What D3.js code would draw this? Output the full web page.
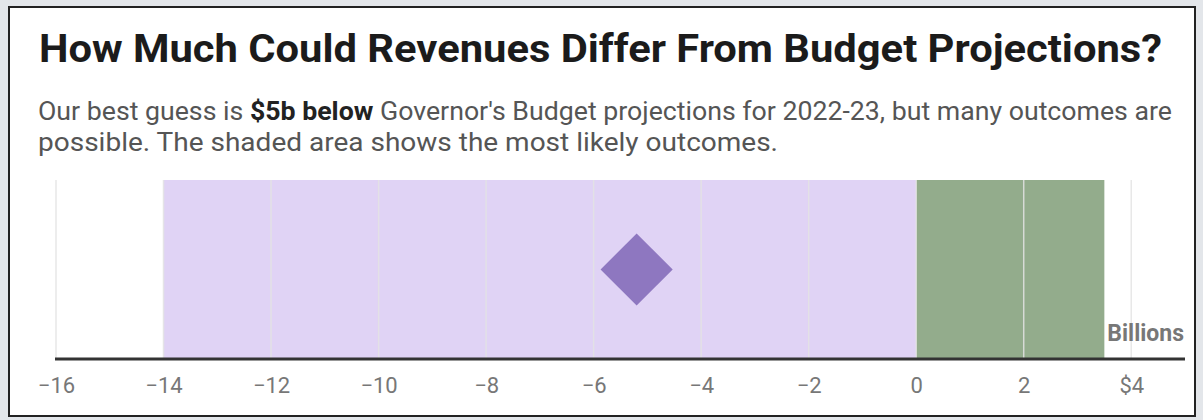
<!DOCTYPE html>
<html><head><meta charset="utf-8">
<script src="https://cdn.jsdelivr.net/npm/d3@7"></script>
<style>
html,body{margin:0;padding:0;background:#e3e6ea;}
svg{display:block;font-family:Roboto,"Noto Sans",sans-serif;}
</style></head>
<body>
<svg id="chart" width="1203" height="420"></svg>
<script>
// ---- data ----
const tickValues = [-16, -14, -12, -10, -8, -6, -4, -2, 0, 2, 4];
const tickLabels = ["\u221216", "\u221214", "\u221212", "\u221210", "\u22128", "\u22126", "\u22124", "\u22122", "0", "2", "$4"];
const bandNames = ["Below projections", "Above projections"];
const bandStarts = [-14, 0];
const bandEnds = [0, 3.5];
const bandColors = ["#e0d3f5", "#93ac8c"];
const bestGuess = [-5.2];
const unitLabel = "Billions";
const titleText = "How Much Could Revenues Differ From Budget Projections?";

const svg = d3.select("#chart");
// panel
svg.append("rect").attr("x", 9).attr("y", 7).attr("width", 1186).attr("height", 409)
  .attr("fill", "#fff").attr("stroke", "#222").attr("stroke-width", 2);

svg.append("text").attr("x", 39).attr("y", 62)
  .attr("font-size", 39).attr("font-weight", 700).attr("fill", "#1b1b1b")
  .attr("textLength", 1123).attr("lengthAdjust", "spacingAndGlyphs")
  .text(titleText);

const sub1 = svg.append("text").attr("x", 38).attr("y", 120).attr("font-size", 26).attr("fill", "#555")
  .attr("textLength", 1134).attr("lengthAdjust", "spacingAndGlyphs");
sub1.append("tspan").text("Our best guess is ");
sub1.append("tspan").attr("font-weight", 700).attr("fill", "#222").text("$5b below");
sub1.append("tspan").text(" Governor's Budget projections for 2022-23, but many outcomes are");
svg.append("text").attr("x", 38).attr("y", 151).attr("font-size", 26).attr("fill", "#555")
  .attr("textLength", 740).attr("lengthAdjust", "spacingAndGlyphs")
  .text("possible. The shaded area shows the most likely outcomes.");

// scales
const x = d3.scaleLinear().domain([-16, 5]).range([56, 1185]);
const y = d3.scaleLinear().domain([0, 1]).range([359, 180]);

const bands = bandNames.map((n, i) => ({name: n, s: bandStarts[i], e: bandEnds[i], c: bandColors[i]}));
svg.append("g").selectAll("rect").data(bands).join("rect")
  .attr("x", d => x(d.s)).attr("width", d => x(d.e) - x(d.s))
  .attr("y", y(1)).attr("height", y(0) - y(1)).attr("fill", d => d.c);

// grid lines on top
svg.append("g").selectAll("line").data(tickValues).join("line")
  .attr("x1", d => x(d)).attr("x2", d => x(d)).attr("y1", y(1)).attr("y2", y(0))
  .attr("stroke", "#e4e4e4").attr("stroke-width", 1.5).attr("opacity", 0.85);

// best guess diamond
svg.append("g").selectAll("path").data(bestGuess).join("path")
  .attr("d", d3.symbol(d3.symbolSquare, 2600))
  .attr("transform", d => `translate(${x(d)},${y(0.5)}) rotate(45)`)
  .attr("fill", "#8e77c0");

// axis
const axis = d3.axisBottom(x).tickValues(tickValues).tickFormat((d, i) => tickLabels[i]).tickSize(0).tickPadding(0);
const ag = svg.append("g").attr("transform", `translate(0,${y(0)})`).call(axis);
ag.select(".domain").attr("stroke", "#333").attr("stroke-width", 3)
  .attr("d", `M${x(-16) - 1},0H${x(5)}`);
ag.selectAll("text").attr("font-size", 22).attr("fill", "#777")
  .attr("font-family", "Roboto, sans-serif").attr("dy", null).attr("y", 34);

svg.append("text").attr("x", x(5) - 1).attr("y", 341).attr("text-anchor", "end")
  .attr("font-size", 23).attr("font-weight", 700).attr("fill", "#777").text(unitLabel);
</script>
</body></html>
